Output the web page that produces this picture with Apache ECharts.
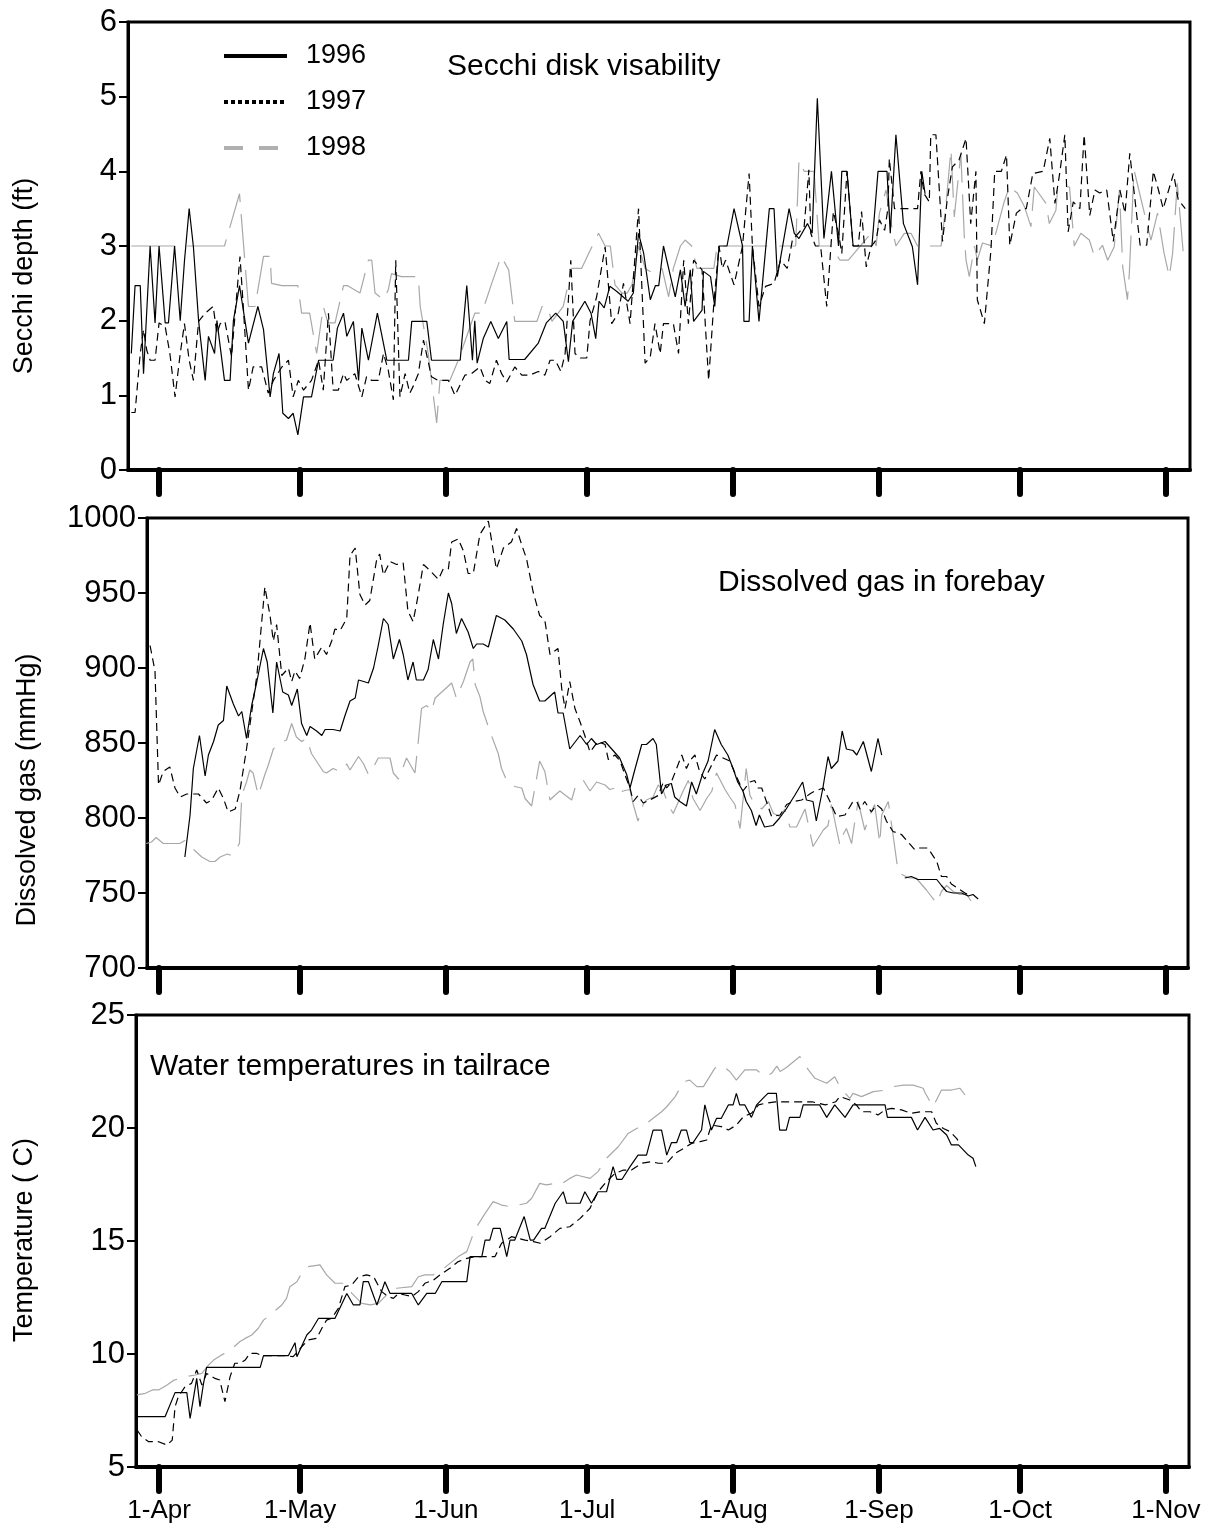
<!DOCTYPE html>
<html>
<head>
<meta charset="utf-8">
<title>Secchi depth, dissolved gas and water temperature, 1996-1998</title>
<script src="https://cdn.jsdelivr.net/npm/echarts@6/dist/echarts.min.js"></script>
<style>
  html, body { margin: 0; padding: 0; background: #fff; }
  #chart { width: 1213px; height: 1532px; }
</style>
</head>
<body>
<div id="chart"></div>
<script>
// Days are counted from 1 April (day 0).
const xTickDays = [0, 30, 61, 91, 122, 153, 183, 214];
const xTickLabels = ['1-Apr', '1-May', '1-Jun', '1-Jul', '1-Aug', '1-Sep', '1-Oct', '1-Nov'];
const years = ['1996', '1997', '1998'];

// Secchi disk depth (ft): [day, depth]
const secchi1996 = [
  [-5.9,1.56],[-5.1,2.47],[-4.0,2.47],[-3.3,1.29],[-1.9,3.0],[-0.85,1.97],[0,3.0],[1.3,1.97],[2.0,1.97],[3.3,3.0],
  [4.5,2.0],[5.4,2.8],[6.4,3.5],[7.3,2.99],[8.4,2.0],[9.8,1.2],[10.5,1.79],[11.8,1.56],[12.3,2.0],[13.9,1.2],
  [15.1,1.2],[15.8,2.0],[17.1,2.47],[19.0,1.7],[21.0,2.19],[22.2,1.88],[23.6,0.98],[24.3,1.29],[25.5,1.56],[26.3,0.76],
  [27.5,0.69],[28.5,0.76],[29.5,0.47],[30.7,0.98],[32.4,0.98],[33.9,1.47],[37.0,1.47],[37.9,1.9],[39.2,2.1],[39.9,1.79],
  [41.3,1.99],[42.4,1.2],[43.1,1.9],[44.5,1.47],[46.4,2.1],[48.4,1.47],[53.0,1.47],[53.7,1.99],[56.9,1.99],[57.9,1.47],
  [64.0,1.47],[65.4,2.47],[66.6,1.47],[67.1,2.0],[67.6,1.43],[68.9,1.76],[70.5,1.99],[72.1,1.76],[73.9,1.99],[74.4,1.48],
  [77.7,1.48],[80.6,1.7],[82.3,1.97],[84.3,2.1],[85.9,1.99],[87.0,1.45],[87.9,1.99],[90.5,2.26],[91.8,2.1],[92.8,1.76],
  [93.5,2.26],[94.6,2.17],[95.8,2.46],[97.3,2.39],[99.7,2.26],[100.8,2.37],[101.9,3.17],[103.0,2.9],[104.4,2.28],[105.5,2.47],
  [106.2,2.47],[107.2,3.0],[109.7,2.32],[110.8,2.68],[111.8,2.19],[112.9,2.68],[113.6,1.99],[115.4,2.14],[115.7,2.66],[117.2,2.59],
  [118.1,2.19],[119.0,3.0],[120.7,3.0],[122.2,3.5],[124.0,3.0],[124.3,1.99],[125.4,1.99],[126.1,3.0],[127.5,1.99],[129.7,3.5],
  [130.7,3.5],[131.4,2.59],[133.9,3.5],[135.0,3.17],[136.0,3.1],[137.8,3.3],[138.8,3.17],[139.9,4.98],[141.3,3.1],[142.9,4.0],
  [144.4,3.0],[145.1,4.0],[146.2,4.0],[147.5,3.0],[151.5,3.0],[152.8,4.0],[154.7,4.0],[155.4,3.17],[156.6,4.49],[158.2,3.3],
  [160.1,2.99],[161.2,2.48],[162.1,4.0],[162.8,3.7]
];
const secchi1997 = [
  [-5.9,0.77],[-5.1,0.77],[-4.0,1.56],[-3.3,1.88],[-2.6,1.6],[-1.9,1.47],[-0.85,1.47],[0,1.97],[1.3,1.92],[2.3,1.56],
  [3.4,0.98],[4.5,1.56],[5.4,1.96],[6.4,1.47],[7.3,1.2],[8.4,1.99],[9.8,2.1],[11.5,2.19],[12.3,1.83],[13.0,1.96],
  [14.0,1.99],[15.4,1.52],[17.2,2.86],[17.9,2.19],[19.0,1.07],[20.0,1.38],[21.8,1.38],[23.2,1.03],[24.3,1.2],[26.1,1.38],
  [27.5,1.47],[28.5,0.98],[29.6,1.2],[30.7,1.07],[32.4,1.2],[33.9,1.47],[34.9,1.07],[36.0,2.1],[37.0,1.07],[38.1,1.07],
  [39.2,1.29],[39.9,1.2],[41.6,1.29],[43.1,0.98],[44.1,1.25],[45.2,1.2],[46.6,1.2],[47.7,1.56],[48.7,1.34],[49.8,0.94],
  [50.3,2.81],[51.2,0.98],[52.3,1.29],[53.3,1.03],[54.0,1.12],[55.1,1.29],[56.2,1.74],[57.9,1.25],[59.3,1.2],[61.5,1.2],
  [62.9,1.0],[65.0,1.27],[66.4,1.29],[68.2,1.38],[69.3,1.2],[70.3,1.16],[71.7,1.47],[72.8,1.29],[73.9,1.18],[75.6,1.38],
  [77.1,1.27],[78.8,1.27],[80.6,1.32],[82.0,1.27],[83.1,1.47],[84.2,1.47],[85.4,1.32],[86.3,1.56],[87.5,2.81],[88.4,1.56],
  [89.5,1.5],[90.9,1.5],[91.6,2.0],[93.0,2.32],[94.8,2.99],[96.2,1.96],[97.6,2.1],[98.7,2.5],[100.1,1.96],[101.9,3.5],
  [103.3,1.43],[104.4,1.52],[105.4,1.96],[106.5,1.56],[107.2,1.96],[109.3,1.96],[110.4,1.56],[111.5,2.81],[112.5,1.96],[113.6,2.81],
  [115.4,2.68],[116.8,1.2],[117.9,2.23],[119.0,3.0],[119.7,2.7],[120.4,2.81],[122.2,2.48],[124.0,3.0],[125.4,3.97],[126.1,3.0],
  [127.5,2.19],[128.9,2.46],[130.7,2.5],[132.1,2.81],[133.5,2.7],[134.6,3.08],[137.1,3.26],[138.1,4.02],[138.5,3.17],[139.5,3.0],
  [140.6,3.0],[141.9,2.19],[143.3,3.46],[144.4,3.17],[145.1,2.9],[146.2,4.0],[147.5,3.0],[148.6,3.0],[149.3,3.46],[150.3,2.72],
  [151.3,2.99],[152.4,3.08],[153.1,3.35],[154.2,3.21],[154.9,3.5],[155.2,4.17],[156.3,3.5],[161.2,3.5],[161.9,4.0],[162.6,3.7],
  [163.7,3.59],[164.0,4.49],[165.1,4.49],[166.5,3.06],[167.5,3.62],[168.6,4.06],[170.0,4.15],[171.5,4.44],[172.5,3.3],[173.6,4.0],
  [173.9,2.28],[175.4,1.96],[176.8,2.95],[177.6,4.0],[179.0,4.0],[180.1,4.22],[180.8,3.01],[182.2,3.44],[183.3,3.5],[184.3,3.5],
  [185.7,3.97],[187.9,4.0],[189.3,4.44],[190.4,3.57],[191.4,3.97],[192.5,4.49],[193.2,3.19],[194.3,3.59],[195.7,3.5],[196.6,4.49],
  [197.8,3.41],[198.9,3.75],[199.9,3.71],[201.4,3.75],[202.8,3.06],[204.2,3.75],[205.3,3.44],[206.3,4.24],[208.5,3.01],[209.9,3.01],
  [211.3,4.0],[212.4,3.75],[213.4,3.5],[215.6,3.97],[216.6,3.62],[218.1,3.5]
];
const secchi1998 = [
  [-5.9,3.0],[13.9,3.0],[17.1,3.7],[19.0,2.19],[20.4,2.19],[22.2,2.86],[23.6,2.86],[23.9,2.5],[26.1,2.47],[29.5,2.47],
  [30.3,2.1],[32.0,2.1],[33.5,1.56],[34.9,2.19],[35.9,1.97],[37.4,1.97],[39.2,2.47],[40.0,2.47],[42.7,2.37],[44.5,2.81],
  [45.2,2.81],[45.9,2.37],[47.7,2.28],[48.7,2.41],[49.4,2.63],[51.5,2.59],[55.1,2.59],[55.5,2.19],[57.2,1.56],[59.0,0.63],
  [59.7,1.2],[61.8,1.2],[63.6,1.47],[67.1,2.1],[68.6,2.1],[70.7,2.5],[72.7,2.86],[74.3,2.68],[75.6,1.99],[80.3,1.99],
  [81.4,2.19],[82.5,2.19],[83.5,1.99],[85.9,2.19],[87.7,2.7],[89.8,2.7],[91.3,2.9],[93.4,3.17],[94.8,3.0],[95.9,3.0],
  [96.9,2.48],[98.4,2.37],[99.5,2.37],[100.5,2.48],[101.9,3.0],[103.3,2.7],[105.1,2.63],[106.9,2.7],[108.3,2.32],[109.3,2.7],
  [110.8,3.0],[111.8,3.08],[113.2,3.0],[114.3,2.7],[117.9,2.7],[118.6,3.0],[135.3,3.0],[136.0,4.15],[137.1,4.0],[139.2,4.0],
  [140.3,3.0],[142.9,3.0],[144.7,2.81],[146.5,2.81],[151.3,3.17],[152.4,3.0],[153.1,3.44],[154.5,3.75],[155.6,3.3],[156.6,3.0],
  [158.4,3.17],[159.8,3.17],[161.2,3.0],[166.2,3.0],[167.2,3.53],[168.3,4.29],[169.0,3.39],[170.4,4.24],[171.1,3.17],[171.5,2.81],
  [172.2,2.59],[173.3,3.0],[173.9,2.81],[175.0,3.04],[177.1,3.0],[179.6,3.59],[180.7,3.79],[182.4,3.71],[183.9,3.53],[185.3,3.26],
  [186.0,3.79],[186.7,3.73],[188.5,3.57],[189.2,3.3],[190.6,3.48],[191.0,3.79],[193.5,3.79],[194.5,3.0],[195.9,3.17],[197.7,3.08],
  [198.8,2.86],[200.5,3.01],[201.6,2.81],[203.0,2.99],[204.1,3.75],[204.8,2.72],[205.8,2.28],[206.2,2.63],[207.2,4.02],[209.4,3.44],
  [210.8,3.08],[212.2,3.44],[213.6,2.9],[214.7,2.59],[215.4,2.9],[216.4,3.84],[217.8,2.81]
];

// Dissolved gas in forebay (mmHg): [day, pressure]; null marks a break in the record
const gas1996 = [
  [5.5,774],[6.6,802],[7.3,833],[8.6,855],[9.8,828],[10.5,842],[11.6,851],[12.6,862],[13.7,865],[14.4,888],
  [15.8,876],[16.9,868],[17.6,871],[18.6,853],[19.7,875],[20.8,891],[22.2,913],[23.0,904],[24.2,870],[25.0,904],
  [26.3,884],[27.5,882],[28.2,875],[29.4,886],[30.3,863],[31.4,855],[32.1,861],[33.5,858],[34.6,855],[35.3,859],
  [37.0,859],[38.5,858],[39.5,868],[40.6,878],[41.7,880],[42.4,892],[43.5,891],[44.5,890],[45.6,900],[46.6,915],
  [47.7,933],[48.7,929],[49.8,906],[51.1,919],[51.9,909],[52.9,892],[54.0,904],[54.7,892],[56.2,892],[57.2,899],
  [58.3,919],[59.4,906],[60.4,929],[61.5,950],[62.2,943],[63.2,923],[64.3,933],[65.7,924],[66.8,913],[67.5,916],
  [68.9,916],[70.0,914],[71.7,935],[73.5,932],[75.3,926],[77.1,918],[78.1,909],[79.5,889],[80.9,878],[82.0,878],
  [84.1,884],[84.8,870],[85.9,870],[87.3,846],[89.5,855],[90.9,849],[91.9,853],[93.0,849],[94.8,851],[96.5,845],
  [97.9,840],[99.4,829],[100.1,820],[101.2,833],[102.6,849],[103.6,849],[105.0,853],[105.7,849],[106.8,816],[107.8,822],
  [108.9,823],[109.6,814],[110.7,811],[112.1,808],[113.2,824],[114.2,816],[115.6,830],[116.7,838],[118.1,859],[119.5,849],
  [120.9,842],[122.0,833],[123.0,824],[124.1,818],[124.8,811],[125.9,805],[126.9,795],[127.6,802],[128.7,794],[130.5,795],
  [131.9,800],[133.3,806],[135.1,815],[136.8,824],[137.6,812],[139.0,811],[139.7,798],[141.1,820],[142.2,841],[142.9,833],
  [144.3,838],[145.2,858],[146.1,846],[147.5,845],[148.3,842],[149.7,851],[151.4,831],[152.8,853],[153.6,842],[156,null],
  [158.5,760],[159.9,761],[161.3,759],[165.3,759],[166.3,755],[167.4,751],[168.8,750],[170.6,750],[172.0,748],[173.0,749],
  [174.1,746]
];
const gas1997 = [
  [-1.9,915],[-0.85,898],[-0.1,822],[0.9,831],[2.3,834],[3.4,820],[4.5,814],[5.9,816],[8.4,816],[10.1,810],
  [11.2,812],[12.6,820],[13.7,813],[14.7,804],[16.2,806],[17.2,818],[18.6,846],[20.8,895],[22.5,954],[23.6,935],
  [24.3,918],[25.0,929],[26.1,895],[27.5,900],[28.2,891],[28.9,898],[29.9,893],[31.0,906],[32.1,930],[33.1,906],
  [34.6,914],[35.6,909],[36.7,918],[37.4,926],[38.5,925],[39.9,933],[40.6,975],[41.7,980],[42.7,949],[43.8,942],
  [44.8,945],[46.3,973],[46.9,976],[47.7,962],[49.1,971],[50.5,969],[51.9,970],[52.9,938],[54.0,931],[54.7,942],
  [56.2,969],[57.6,965],[59.4,959],[60.4,966],[61.5,966],[62.2,984],[63.6,986],[64.7,978],[65.7,963],[66.8,963],
  [68.2,989],[70.0,998],[71.7,966],[73.2,980],[74.9,984],[76.0,993],[77.1,982],[78.1,973],[79.5,951],[80.9,935],
  [82.0,932],[83.1,909],[84.8,913],[85.6,886],[86.3,873],[87.3,891],[88.4,873],[89.5,864],[90.5,855],[91.6,844],
  [93.3,851],[94.8,849],[95.5,839],[96.9,842],[98.0,838],[99.0,829],[100.1,820],[100.8,811],[101.8,815],[102.9,810],
  [104.3,812],[106.1,815],[107.2,824],[107.9,820],[108.9,824],[110.0,833],[111.1,842],[112.1,833],[112.8,838],[113.9,842],
  [114.9,831],[116.0,826],[117.1,833],[118.5,842],[119.9,840],[121.3,838],[122.7,828],[124.1,818],[125.6,824],[126.6,825],
  [127.3,820],[128.1,820],[129.1,811],[130.2,801],[132.0,802],[133.4,809],[134.8,811],[136.6,812],[138.3,816],[139.4,818],
  [141.2,820],[142.6,811],[144.0,801],[145.8,802],[147.5,811],[148.3,811],[149.0,806],[150.0,811],[151.4,804],[152.5,809],
  [153.6,806],[154.6,798],[156.0,791],[157.8,789],[159.2,784],[160.6,779],[161.7,780],[163.4,780],[165.3,771],[166.3,761],
  [167.4,761],[168.4,756],[169.8,753],[171.3,750],[172.7,748]
];
const gas1998 = [
  [-2.7,783],[-1.6,784],[-0.6,787],[0.9,783],[4.4,783],[5.5,785],[7.7,778],[9.1,774],[10.8,771],[11.9,771],
  [13.0,774],[14.5,776],[15.4,775],[17.1,783],[17.6,815],[18.6,824],[19.3,832],[20.0,830],[21.1,815],[22.5,829],
  [23.2,835],[24.3,846],[25.7,850],[27.1,852],[28.2,863],[29.2,854],[30.3,851],[31.4,853],[32.4,843],[34.9,831],
  [35.6,830],[37.0,833],[38.5,831],[39.9,836],[40.6,832],[42.4,841],[43.5,836],[44.5,829],[45.6,834],[46.6,840],
  [49.1,840],[49.8,830],[50.9,826],[51.9,834],[52.6,840],[54.4,830],[55.1,851],[55.8,873],[56.9,875],[57.9,871],
  [58.7,880],[60.8,886],[62.2,890],[63.2,880],[64.7,891],[66.1,904],[66.7,906],[67.2,889],[68.2,881],[68.9,871],
  [70.3,858],[72.1,843],[72.8,833],[73.9,825],[75.6,821],[77.1,820],[77.8,813],[79.2,808],[80.9,838],[82.0,831],
  [83.1,812],[84.1,815],[85.2,818],[87.7,812],[88.7,823],[90.2,825],[91.6,818],[93.0,824],[94.8,822],[95.8,819],
  [96.9,820],[97.6,816],[98.6,818],[100.1,819],[100.8,809],[101.8,798],[102.9,809],[103.6,812],[105.0,814],[106.1,822],
  [107.2,818],[108.2,809],[109.3,803],[111.4,818],[112.5,825],[113.5,813],[115.0,805],[116.4,813],[117.5,818],[118.5,830],
  [120.3,819],[121.3,814],[122.4,809],[123.5,793],[124.8,833],[125.6,815],[126.3,811],[128.1,806],[129.5,811],[130.6,803],
  [132.0,801],[133.0,806],[134.1,794],[135.5,794],[137.3,806],[139.0,781],[141.2,792],[142.2,795],[142.9,809],[144.7,782],
  [145.4,789],[146.1,793],[147.2,783],[147.9,798],[148.6,811],[150.0,792],[151.1,802],[152.1,809],[153.2,783],[153.6,802],
  [155.0,811],[156.0,789],[157.1,764],[158.1,762],[159.5,760],[160.9,760],[163.1,752],[165.3,743],[166.3,751],[167.4,755],
  [168.8,751],[170.2,749],[171.7,749],[173.1,742]
];

// Tailrace water temperature (C): [day, temperature]
const temp1996 = [
  [-4.7,7.23],[1.3,7.23],[3.4,8.29],[5.9,8.29],[6.6,7.15],[8.0,8.92],[8.7,7.67],[9.4,8.63],[10.1,9.41],[21.5,9.41],
  [22.2,9.93],[27.5,9.93],[28.9,10.5],[29.3,9.88],[31.4,10.84],[32.4,11.06],[33.9,11.58],[37.4,11.58],[39.9,12.68],[41.3,12.17],
  [42.7,12.17],[43.4,13.2],[44.5,13.2],[46.3,12.17],[48.0,13.2],[49.1,12.68],[53.7,12.68],[55.1,12.17],[56.9,12.68],[58.7,12.68],
  [60.1,13.2],[65.4,13.2],[66.1,14.31],[68.6,14.31],[69.3,15.04],[70.3,15.04],[71.0,15.56],[72.5,15.56],[73.9,14.31],[74.6,15.04],
  [75.6,15.04],[77.6,16.08],[78.9,15.04],[79.6,15.04],[81.3,15.56],[82.0,15.56],[84.2,16.67],[85.9,17.18],[86.6,16.67],[89.5,16.67],
  [90.5,17.18],[91.9,16.67],[93.3,17.18],[95.1,17.18],[96.5,18.29],[97.3,17.73],[98.4,17.73],[100.1,18.29],[101.8,18.8],[103.6,18.8],
  [105.0,19.91],[106.8,19.91],[107.9,18.8],[108.9,19.35],[110.0,19.35],[111.0,19.91],[112.1,19.91],[112.8,19.35],[113.5,19.35],[115.3,19.91],
  [116.0,21.02],[117.4,19.91],[118.5,20.43],[119.5,20.43],[121.0,21.02],[122.0,21.02],[122.7,21.53],[123.4,21.02],[124.5,21.02],[125.9,20.47],
  [127.0,21.02],[128.7,21.39],[129.4,21.53],[131.2,21.53],[131.9,19.91],[133.3,19.91],[134.0,20.47],[136.2,20.47],[136.9,21.02],[140.4,21.02],
  [141.9,20.47],[143.6,21.02],[145.8,20.47],[147.5,21.02],[154.3,21.02],[154.8,20.47],[159.9,20.47],[161.2,19.91],[162.8,20.47],[164.5,19.91],
  [165.9,19.98],[167.4,19.69],[168.4,19.25],[169.9,19.25],[172.0,18.8],[173.0,18.66],[173.6,18.29]
];
const temp1997 = [
  [-4.7,6.64],[-3.7,6.34],[-2.2,6.12],[-0.1,6.12],[1.7,5.97],[2.8,6.19],[3.4,7.67],[4.1,8.11],[5.5,8.55],[6.9,8.7],
  [8.0,9.29],[9.1,8.63],[10.1,9.14],[11.2,9.0],[11.9,8.92],[12.9,8.85],[14.0,7.89],[15.1,9.0],[16.1,9.59],[17.2,9.59],
  [18.3,9.73],[19.3,10.03],[20.7,10.03],[21.8,9.93],[26.8,9.93],[28.5,9.88],[30.3,10.32],[31.7,10.62],[33.5,10.69],[34.6,11.14],
  [35.6,11.5],[36.7,11.58],[38.1,12.02],[39.5,12.98],[40.9,13.05],[42.4,13.42],[44.1,13.5],[45.6,13.42],[47.3,12.76],[48.7,12.54],
  [49.8,12.46],[50.9,12.68],[52.3,12.61],[53.7,12.54],[55.1,12.76],[56.5,13.13],[58.3,13.27],[59.7,13.5],[61.8,13.79],[63.6,14.09],
  [65.4,14.23],[67.1,14.31],[71.4,14.31],[72.8,14.9],[74.9,15.19],[76.3,15.12],[77.8,15.04],[79.6,14.97],[81.0,14.9],[83.1,15.19],
  [85.2,15.56],[87.3,15.63],[89.5,16.0],[91.6,16.45],[93.3,17.18],[95.1,17.63],[96.9,17.99],[98.7,18.14],[100.4,18.14],[102.6,18.44],
  [104.7,18.51],[106.1,18.44],[107.9,18.44],[109.7,18.88],[111.5,19.1],[113.2,19.32],[115.0,19.4],[116.4,19.47],[117.4,20.13],[119.5,20.06],
  [121.0,19.91],[122.7,20.13],[124.2,20.5],[125.9,20.65],[127.4,21.02],[128.8,21.09],[131.0,21.16],[138.8,21.16],[141.6,21.02],[143.8,21.16],
  [144.7,21.39],[146.8,21.24],[148.2,21.02],[149.3,20.72],[151.1,20.72],[152.8,20.58],[154.3,20.8],[155.7,20.87],[157.8,20.8],[159.9,20.65],
  [162.0,20.72],[164.2,20.72],[165.2,20.21],[166.7,19.98],[168.1,19.84],[169.5,19.54],[170.2,19.32]
];
const temp1998 = [
  [-4.7,8.19],[-2.9,8.26],[-1.4,8.41],[-0.1,8.41],[1.7,8.63],[3.2,8.85],[4.6,8.92],[5.7,9.0],[7.7,9.07],[9.1,9.14],
  [10.5,9.51],[11.6,9.73],[13.3,9.96],[14.7,10.1],[17.2,10.55],[18.3,10.69],[19.7,10.84],[21.1,11.14],[22.2,11.5],[23.6,11.73],
  [26.1,12.17],[27.1,12.46],[27.8,12.98],[29.3,13.2],[30.3,13.57],[31.6,13.86],[34.2,13.94],[35.6,13.5],[37.4,13.13],[39.2,13.13],
  [41.0,12.68],[43.1,12.24],[44.9,12.17],[46.6,12.24],[48.0,12.54],[49.4,12.83],[50.5,12.91],[53.7,12.98],[55.1,13.42],[56.5,13.5],
  [58.3,13.5],[60.1,13.72],[63.6,14.31],[65.4,14.53],[67.1,15.49],[68.2,15.86],[69.3,16.22],[71.0,16.74],[72.8,16.59],[74.6,16.52],
  [76.3,16.59],[78.1,16.67],[79.2,16.89],[80.9,17.55],[82.3,17.48],[84.1,17.55],[85.2,17.48],[87.3,17.77],[88.7,17.92],[91.6,17.77],
  [93.3,18.07],[95.1,18.66],[96.5,18.95],[97.6,19.17],[99.7,19.76],[101.5,19.98],[103.2,20.13],[105.0,20.43],[106.8,20.72],[107.9,20.94],
  [109.7,21.39],[111.5,22.05],[112.8,22.12],[114.3,21.83],[115.7,21.83],[118.1,22.64],[119.5,22.79],[121.3,22.5],[122.7,22.12],[124.5,22.57],
  [127.0,22.57],[128.8,22.27],[130.2,22.42],[131.3,22.74],[132.0,22.5],[133.4,22.69],[136.2,23.16],[138.0,22.57],[139.4,22.2],[141.9,21.98],
  [143.6,22.27],[144.7,21.83],[146.8,21.31],[147.5,21.53],[149.3,21.39],[151.8,21.61],[154.6,21.68],[156.0,21.83],[158.2,21.9],[160.3,21.9],
  [162.4,21.76],[162.8,21.56],[164.5,20.94],[166.3,21.68],[168.4,21.68],[170.2,21.76],[171.3,21.46]
];

// ---------------------------------------------------------------------------
const FONT = '"Liberation Sans", Arial, Helvetica, sans-serif';

const lineLook = {
  '1996': { color: '#000000', type: 'solid', width: 1.2 },
  '1997': { color: '#000000', type: [8, 5], width: 1.2 },
  '1998': { color: '#a8a8a8', type: [44, 12], width: 1.2 }
};

// Three stacked panels sharing the same calendar axis
const panels = [
  { grid: { left: 128, top: 22, width: 1062, height: 448 }, xMin: -6.6, xMax: 219.1,
    y: { min: 0, max: 6, interval: 1 }, labels: false,
    data: { '1996': secchi1996, '1997': secchi1997, '1998': secchi1998 } },
  { grid: { left: 147, top: 518, width: 1041, height: 450 }, xMin: -2.55, xMax: 218.7,
    y: { min: 700, max: 1000, interval: 50 }, labels: false,
    data: { '1996': gas1996, '1997': gas1997, '1998': gas1998 } },
  { grid: { left: 136, top: 1015, width: 1053, height: 452 }, xMin: -4.9, xMax: 218.9,
    y: { min: 5, max: 25, interval: 5 }, labels: true,
    data: { '1996': temp1996, '1997': temp1997, '1998': temp1998 } }
];

const grids = [], xAxes = [], yAxes = [], series = [];
panels.forEach((p, i) => {
  grids.push(Object.assign({
    show: true, borderColor: '#000', borderWidth: 3,
    backgroundColor: 'transparent', containLabel: false, outerBoundsMode: 'none'
  }, p.grid));

  xAxes.push({
    type: 'value', gridIndex: i, min: p.xMin, max: p.xMax,
    axisLine: { show: true, onZero: false, lineStyle: { color: '#000', width: 4 } },
    axisTick: { show: true, customValues: xTickDays, length: 24, inside: false,
      lineStyle: { color: '#000', width: 6, cap: 'round' } },
    axisLabel: {
      show: p.labels, customValues: xTickDays, margin: 31,
      color: '#000', fontSize: 26, fontFamily: FONT,
      formatter: v => xTickLabels[xTickDays.indexOf(Math.round(v))] || ''
    },
    splitLine: { show: false }
  });

  yAxes.push({
    type: 'value', gridIndex: i, min: p.y.min, max: p.y.max, interval: p.y.interval,
    axisLine: { show: true, onZero: false, lineStyle: { color: '#000', width: 3 } },
    axisTick: { show: true, length: 9, lineStyle: { color: '#000', width: 2 } },
    axisLabel: { color: '#000', fontSize: 31, fontFamily: FONT, margin: 11,
      formatter: v => String(v) },
    splitLine: { show: false }
  });

  ['1998', '1997', '1996'].forEach(yr => {
    const look = lineLook[yr];
    series.push({
      type: 'line', name: yr, xAxisIndex: i, yAxisIndex: i,
      data: p.data[yr], symbol: 'none', showSymbol: false, connectNulls: false,
      lineStyle: { color: look.color, width: look.width, type: look.type },
      itemStyle: { color: look.color },
      emphasis: { disabled: true },
      z: yr === '1996' ? 4 : (yr === '1997' ? 3 : 2)
    });
  });
});

const titleStyle = { color: '#000', fontSize: 30, fontWeight: 'normal', fontFamily: FONT, lineHeight: 32 };
const nameFont = '27px ' + FONT;

const option = {
  backgroundColor: '#ffffff',
  animation: false,
  title: [
    { text: 'Secchi disk visability', left: 447, top: 51, padding: 0, textStyle: titleStyle },
    { text: 'Dissolved gas in forebay', left: 718, top: 567, padding: 0, textStyle: titleStyle },
    { text: 'Water temperatures in tailrace', left: 150, top: 1051, padding: 0, textStyle: titleStyle }
  ],
  legend: {
    orient: 'vertical', left: 222, top: 41, padding: 0,
    itemWidth: 63, itemHeight: 14, itemGap: 16, selectedMode: false,
    textStyle: { color: '#000', fontSize: 27, fontFamily: FONT, lineHeight: 30, padding: [0, 0, 0, 14] },
    data: [
      { name: '1996', itemStyle: { opacity: 0 }, lineStyle: { color: '#000', width: 4, type: 'solid' } },
      { name: '1997', itemStyle: { opacity: 0 }, lineStyle: { color: '#000', width: 4, type: [4, 3] } },
      { name: '1998', itemStyle: { opacity: 0 }, lineStyle: { color: '#b0b0b0', width: 4, type: [19, 16] } }
    ]
  },
  grid: grids,
  xAxis: xAxes,
  yAxis: yAxes,
  series: series,
  graphic: [
    { type: 'text', x: 25, y: 276, rotation: Math.PI / 2,
      style: { text: 'Secchi depth (ft)', font: nameFont, fill: '#000', align: 'center', verticalAlign: 'middle' } },
    { type: 'text', x: 28, y: 790, rotation: Math.PI / 2,
      style: { text: 'Dissolved gas (mmHg)', font: nameFont, fill: '#000', align: 'center', verticalAlign: 'middle' } },
    { type: 'text', x: 25, y: 1240, rotation: Math.PI / 2,
      style: { text: 'Temperature ( C)', font: nameFont, fill: '#000', align: 'center', verticalAlign: 'middle' } }
  ]
};

const chart = echarts.init(document.getElementById('chart'), null, { renderer: 'canvas' });
chart.setOption(option);
</script>
</body>
</html>
